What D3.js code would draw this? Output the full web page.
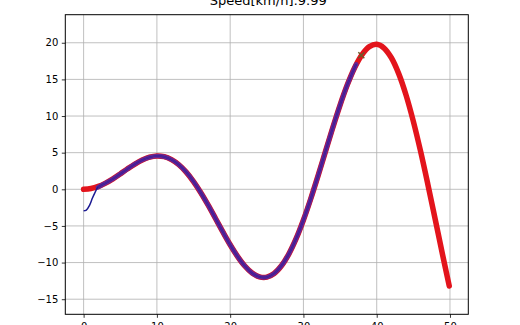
<!DOCTYPE html>
<html>
<head>
<meta charset="utf-8">
<script src="https://cdn.jsdelivr.net/npm/d3@7"></script>
<style>
  body { margin: 0; background: #fff; }
  svg { display: block; font-family: "DejaVu Sans", sans-serif; }
  .tick text { font-size: 10px; fill: #000; }
  .domain { display: none; }
  .tick line { stroke: #000; stroke-width: 0.8; }
</style>
</head>
<body>
<svg width="520" height="325"></svg>
<script>
// course (red)
var courseX = [0, 1, 2, 3, 4, 5, 6, 7, 8, 9, 10, 11, 12, 13, 14, 15, 16, 17, 18, 19,
    20, 21, 22, 23, 24, 25, 26, 27, 28, 29, 30, 31, 32, 33, 34, 35, 36, 37, 38, 39,
    40, 41, 42, 43, 44, 45, 46, 47, 48, 49, 49.9];
var courseY = [0, 0.1, 0.39, 0.85, 1.43, 2.1, 2.8, 3.45, 4.0, 4.38, 4.55, 4.45, 4.05, 3.35, 2.35, 1.06, -0.47, -2.17, -3.98, -5.81,
    -7.57, -9.15, -10.47, -11.43, -11.95, -11.99, -11.49, -10.43, -8.84, -6.74, -4.19, -1.29, 1.86, 5.14, 8.4, 11.5, 14.29, 16.63, 18.39, 19.47,
    19.79, 19.28, 17.95, 15.79, 12.87, 9.27, 5.13, 0.58, -4.18, -8.98, -13.2];

// trajectory (blue)
var trajX = [0, 0.37, 0.82, 1.19, 1.5, 1.95, 2.5, 3, 4, 5, 6, 7, 8, 9, 10, 11, 12, 13, 14, 15, 16, 17, 18, 19,
    20, 21, 22, 23, 24, 25, 26, 27, 28, 29, 30, 31, 32, 33, 34, 35, 36, 37, 37.2];
var trajY = [-2.93, -2.83, -2.15, -1.23, -0.55, 0.27, 0.6, 0.85, 1.43, 2.1, 2.8, 3.45, 4.0, 4.38, 4.55, 4.45, 4.05, 3.35, 2.35, 1.06, -0.47, -2.17, -3.98, -5.81,
    -7.57, -9.15, -10.47, -11.43, -11.95, -11.99, -11.49, -10.43, -8.84, -6.74, -4.19, -1.29, 1.86, 5.14, 8.4, 11.5, 14.29, 16.63, 17.05];
var trajJoin = 5; // index where trajectory meets the course

// target point
var targetX = [37.9];
var targetY = [18.3];

var xTicks = [0, 10, 20, 30, 40, 50];
var xTickLabels = ["0", "10", "20", "30", "40", "50"];
var yTicks = [-15, -10, -5, 0, 5, 10, 15, 20];
var yTickLabels = ["\u221215", "\u221210", "\u22125", "0", "5", "10", "15", "20"];

var titleText = "Speed[km/h]:9.99";

var axLeft = 65.3, axRight = 468.3, axTop = 14.7, axBottom = 314.3;

var svg = d3.select("svg");

var xScale = d3.scaleLinear().domain([-2.5, 52.5]).range([axLeft, axRight]);
var yScale = d3.scaleLinear().domain([-17.06, 23.83]).range([axBottom, axTop]);

// grid
var grid = svg.append("g");
grid.selectAll(".gx")
    .data(xTicks)
    .enter()
    .append("line")
    .attr("x1", d => xScale(d)).attr("x2", d => xScale(d))
    .attr("y1", axTop).attr("y2", axBottom)
    .style("stroke", "#b0b0b0").style("stroke-width", 0.8);
grid.selectAll(".gy")
    .data(yTicks)
    .enter()
    .append("line")
    .attr("y1", d => yScale(d)).attr("y2", d => yScale(d))
    .attr("x1", axLeft).attr("x2", axRight)
    .style("stroke", "#b0b0b0").style("stroke-width", 0.8);

var course = courseX.map((x, i) => [x, courseY[i]]);
var traj = trajX.map((x, i) => [x, trajY[i]]);

var line = d3.line()
    .x(d => xScale(d[0]))
    .y(d => yScale(d[1]))
    .curve(d3.curveCatmullRom);

var plot = svg.append("g");

plot.append("path")
    .attr("d", line(course))
    .style("fill", "none")
    .style("stroke", "#e3141c")
    .style("stroke-width", 5.5)
    .style("stroke-linecap", "round")
    .style("stroke-linejoin", "round");

// blue over the red dots reads as a purple band
plot.append("path")
    .attr("d", line(traj.slice(trajJoin)))
    .style("fill", "none")
    .style("stroke", "#682592")
    .style("stroke-width", 4.5)
    .style("stroke-linecap", "round");

plot.append("path")
    .attr("d", line(traj))
    .style("fill", "none")
    .style("stroke", "#1c1a92")
    .style("stroke-width", 1.5);

plot.append("path")
    .attr("d", line(traj.slice(trajJoin)))
    .style("fill", "none")
    .style("stroke", "#4a2098")
    .style("stroke-width", 1.5);

// target marker
var xs = 3;
targetX.forEach(function (tx, i) {
    var cx = xScale(tx), cy = yScale(targetY[i]);
    plot.append("path")
        .attr("d", `M${cx - xs},${cy - xs}L${cx + xs},${cy + xs}M${cx - xs},${cy + xs}L${cx + xs},${cy - xs}`)
        .style("stroke", "#6e5a28")
        .style("stroke-width", 1.5);
});

// frame
svg.append("rect")
    .attr("x", axLeft).attr("y", axTop)
    .attr("width", axRight - axLeft).attr("height", axBottom - axTop)
    .style("fill", "none").style("stroke", "#000").style("stroke-width", 1);

var x_axis = d3.axisBottom(xScale)
    .tickValues(xTicks)
    .tickFormat((d, i) => xTickLabels[i])
    .tickSize(3.5).tickPadding(5.5);
var y_axis = d3.axisLeft(yScale)
    .tickValues(yTicks)
    .tickFormat((d, i) => yTickLabels[i])
    .tickSize(3.5).tickPadding(3.5);

svg.append("g")
    .attr("transform", `translate(0, ${axBottom})`)
    .call(x_axis)
    .attr("font-family", null).attr("font-size", null);
svg.append("g")
    .attr("transform", `translate(${axLeft}, 0)`)
    .call(y_axis)
    .attr("font-family", null).attr("font-size", null);

svg.append("text")
    .attr("x", (axLeft + axRight) / 2 + 1.5)
    .attr("y", 5)
    .attr("text-anchor", "middle")
    .style("font-size", "13px")
    .text(titleText);
</script>
</body>
</html>
